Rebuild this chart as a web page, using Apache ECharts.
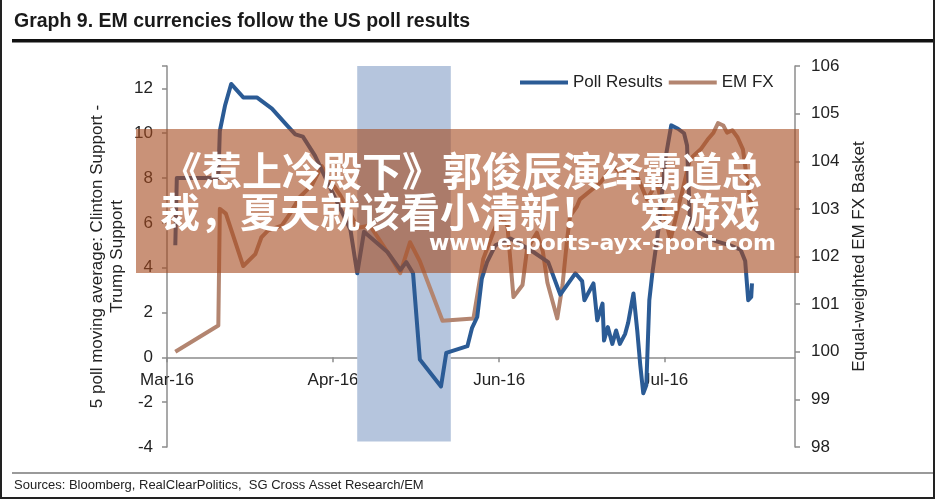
<!DOCTYPE html>
<html>
<head>
<meta charset="utf-8">
<script src="https://cdn.jsdelivr.net/npm/echarts@6/dist/echarts.min.js"></script>
<style>
  html, body { margin: 0; padding: 0; background: #fff; }
  #chart { width: 935px; height: 499px; }
</style>
</head>
<body>
<div id="chart"></div>
<script>
// x positions are trading days counted from the first tick, one tick every 22 days
const tickLabels = ['Mar-16', 'Apr-16', 'Jun-16', 'Jul-16']
const tickStep = 22

// Poll Results (left axis)
const pollDays = [1.1, 1.3, 4.4, 6.8, 7.0, 7.7, 8.5, 10.1, 11.9, 13.9, 15.9, 17.0, 18.0, 19.6, 22.0, 24.3,
  25.2, 26.1, 29.2, 30.9, 31.7, 32.6, 33.5, 36.3, 37.0, 39.8, 40.4, 41.1, 41.7, 42.4, 43.5, 45.5,
  48.1, 50.5, 52.1, 54.1, 55.0, 55.3, 56.5, 57.0, 57.7, 57.9, 58.4, 59.0, 59.5, 60.0, 60.7, 61.1,
  61.8, 62.3, 62.7, 63.1, 63.5, 63.9, 64.3, 65.1, 66.0, 66.8, 67.7, 68.5, 68.9, 69.3, 70.6, 72.6,
  74.6, 76.0, 76.6, 77.0, 77.4, 77.5]
const pollValues = [5.0, 8.0, 8.0, 8.0, 10.1, 11.25, 12.2, 11.6, 11.6, 11.1, 10.35, 9.95, 9.85, 9.0, 7.3, 5.7,
  3.75, 5.6, 4.7, 3.9, 4.25, 3.75, -0.1, -1.3, 0.2, 0.5, 1.3, 1.8, 3.5, 4.25, 5.0, 5.3,
  4.8, 4.25, 2.8, 3.75, 3.4, 2.55, 3.3, 1.65, 2.4, 0.75, 1.35, 0.6, 1.2, 0.6, 1.05, 1.55,
  2.85, 1.2, -0.35, -1.6, -1.25, 2.55, 3.75, 5.7, 8.8, 10.35, 10.2, 10.0, 9.45, 5.9, 5.55, 5.2,
  5.0, 4.8, 4.3, 2.55, 2.7, 3.3]

// EM FX basket (right axis)
const fxDays = [1.1, 6.8, 7.0, 7.8, 10.1, 11.7, 12.5, 13.4, 15.2, 16.3, 17.6, 19.2, 20.5, 21.6, 22.9, 24.3,
  25.2, 26.9, 29.6, 30.9, 32.2, 33.5, 36.5, 40.6, 41.9, 43.2, 44.1, 45.1, 45.9, 47.1, 47.7, 49.0,
  49.8, 50.4, 51.7, 52.4, 53.0, 53.4, 54.3, 54.7, 57.4, 59.1, 60.4, 61.4, 63.6, 64.9, 66.7, 68.0,
  69.3, 70.7, 71.6, 72.4, 73.0, 73.7, 74.2, 74.9, 75.6, 76.3, 76.9, 77.3, 77.5]
const fxValues = [100.0, 100.55, 103.0, 102.9, 101.8, 102.05, 102.4, 102.55, 102.65, 102.9, 103.25, 103.5, 103.9, 103.6, 103.3, 102.9,
  102.6, 102.65, 102.0, 101.65, 102.3, 101.9, 100.65, 100.7, 101.95, 102.5, 102.85, 102.65, 101.15, 101.4, 102.15, 102.5,
  102.1, 101.45, 100.7, 101.4, 102.35, 102.85, 103.05, 103.2, 103.55, 103.9, 103.7, 104.0, 103.2, 103.55, 102.35, 103.2,
  104.05, 104.25, 104.45, 104.6, 104.8, 104.75, 104.6, 104.65, 104.5, 104.25, 103.55, 103.2, 103.0]

// shaded period
const bandDays = [25.2, 37.6]

const leftMin = -4
const leftMax = 13

const chartInstance = echarts.init(document.getElementById('chart'))
const font = 'Liberation Sans, Arial, sans-serif'
const shadow = { shadowColor: 'rgba(30,30,30,0.85)', shadowOffsetX: 2, shadowOffsetY: 2, shadowBlur: 3 }
const axisGrey = { color: '#8c8c8c', width: 1.5 }

// the date axis sits on the zero line of the left axis: a second grid ends there
const plotTop = 66
const plotHeight = 381
const zeroOffset = plotHeight * leftMax / (leftMax - leftMin)

const option = {
  backgroundColor: '#fff',
  animation: false,
  textStyle: { fontFamily: font },
  grid: [
    { left: 167, right: 140, top: plotTop, height: plotHeight },
    { left: 167, right: 140, top: plotTop, height: zeroOffset }
  ],
  legend: {
    left: 515,
    top: 69,
    itemWidth: 48,
    itemHeight: 4,
    itemGap: 6,
    icon: 'rect',
    textStyle: { fontSize: 17, color: '#222', fontFamily: font },
    data: ['Poll Results', 'EM FX']
  },
  xAxis: [
    {
      type: 'value',
      gridIndex: 0,
      min: 0,
      max: 83.2,
      show: false
    },
    {
      type: 'value',
      gridIndex: 1,
      min: 0,
      max: 83.2,
      interval: tickStep,
      splitLine: { show: false },
      axisLine: { onZero: false, lineStyle: axisGrey },
      axisTick: { show: true, length: 5, lineStyle: axisGrey },
      axisLabel: {
        fontSize: 17,
        color: '#222',
        margin: 14,
        showMaxLabel: false,
        formatter: v => tickLabels[Math.round(v / tickStep)] || ''
      }
    }
  ],
  yAxis: [
    {
      type: 'value',
      gridIndex: 0,
      min: leftMin,
      max: leftMax,
      interval: 2,
      position: 'left',
      name: '5 poll moving average: Clinton Support -\nTrump Support',
      nameLocation: 'middle',
      nameGap: 40,
      nameRotate: 90,
      nameMoveOverlap: false,
      nameTextStyle: { fontSize: 17, color: '#222', lineHeight: 20, fontFamily: font },
      splitLine: { show: false },
      axisLine: { show: true, onZero: false, lineStyle: axisGrey },
      axisTick: { show: true, length: 5, lineStyle: axisGrey },
      axisLabel: {
        fontSize: 17,
        color: '#222',
        margin: 14,
        formatter: v => (v % 2 === 0 ? v : '')
      }
    },
    {
      type: 'value',
      gridIndex: 0,
      min: 98,
      max: 106,
      interval: 1,
      position: 'right',
      name: 'Equal-weighted EM FX Basket',
      nameLocation: 'middle',
      nameGap: 56,
      nameRotate: 90,
      nameTextStyle: { fontSize: 17, color: '#222', fontFamily: font },
      splitLine: { show: false },
      axisLine: { show: true, onZero: false, lineStyle: axisGrey },
      axisTick: { show: true, length: 5, lineStyle: axisGrey },
      axisLabel: { fontSize: 17, color: '#222', margin: 16 }
    },
    {
      type: 'value',
      gridIndex: 1,
      min: 0,
      max: 1,
      show: false
    }
  ],
  series: [
    {
      name: 'Poll Results',
      type: 'line',
      xAxisIndex: 0,
      yAxisIndex: 0,
      z: 3,
      showSymbol: false,
      symbol: 'none',
      color: '#2b5b95',
      lineStyle: { width: 4, color: '#2b5b95', join: 'round' },
      data: pollDays.map((d, i) => [d, pollValues[i]]),
      markArea: {
        silent: true,
        itemStyle: { color: '#b5c5dd' },
        data: [[{ xAxis: bandDays[0], yAxis: leftMax }, { xAxis: bandDays[1], yAxis: -3.75 }]]
      }
    },
    {
      name: 'EM FX',
      type: 'line',
      xAxisIndex: 0,
      yAxisIndex: 1,
      z: 2,
      showSymbol: false,
      symbol: 'none',
      color: '#b38570',
      lineStyle: { width: 4, color: '#b38570', join: 'round' },
      data: fxDays.map((d, i) => [d, fxValues[i]])
    }
  ],
  graphic: [
    { type: 'text', left: 14, top: 12, style: { text: 'Graph 9. EM currencies follow the US poll results', font: 'bold 19.5px ' + font, fill: '#1a1a1a' } },
    { type: 'rect', shape: { x: 12, y: 39, width: 923, height: 3.5 }, style: { fill: '#111' } },
    { type: 'line', shape: { x1: 12, y1: 473, x2: 935, y2: 473 }, style: { stroke: '#9a9a9a', lineWidth: 2 } },
    { type: 'text', left: 14, top: 479, style: { text: 'Sources: Bloomberg, RealClearPolitics,  SG Cross Asset Research/EM', font: '13px ' + font, fill: '#222' } },
    { type: 'line', shape: { x1: 1, y1: 0, x2: 1, y2: 499 }, style: { stroke: '#222', lineWidth: 2 } },
    { type: 'line', shape: { x1: 0, y1: 498, x2: 935, y2: 498 }, style: { stroke: '#222', lineWidth: 2 } },
    { type: 'line', shape: { x1: 934, y1: 0, x2: 934, y2: 499 }, style: { stroke: '#222', lineWidth: 2 } },
    // watermark banner on top of the chart
    { type: 'rect', z: 100, shape: { x: 136, y: 129, width: 663, height: 144 }, style: { fill: 'rgba(165,73,30,0.6)' } },
    {
      type: 'text', z: 101, x: 462, y: 171,
      style: Object.assign({ text: '《惹上冷殿下》郭俊辰演绎霸道总', font: 'bold 40px "Noto Sans CJK SC"', fill: '#fff', align: 'center', verticalAlign: 'middle' }, shadow)
    },
    {
      type: 'text', z: 101, x: 460, y: 212,
      style: Object.assign({ text: '裁，夏天就该看小清新！‘爱游戏', font: 'bold 40px "Noto Sans CJK SC"', fill: '#fff', align: 'center', verticalAlign: 'middle' }, shadow)
    },
    {
      type: 'text', z: 101, x: 776, y: 244,
      style: Object.assign({ text: 'www.esports-ayx-sport.com', font: 'bold 22px "DejaVu Sans"', fill: '#fff', align: 'right', verticalAlign: 'middle' }, shadow)
    }
  ]
}

chartInstance.setOption(option)
window.addEventListener('resize', () => chartInstance.resize())
</script>
</body>
</html>
